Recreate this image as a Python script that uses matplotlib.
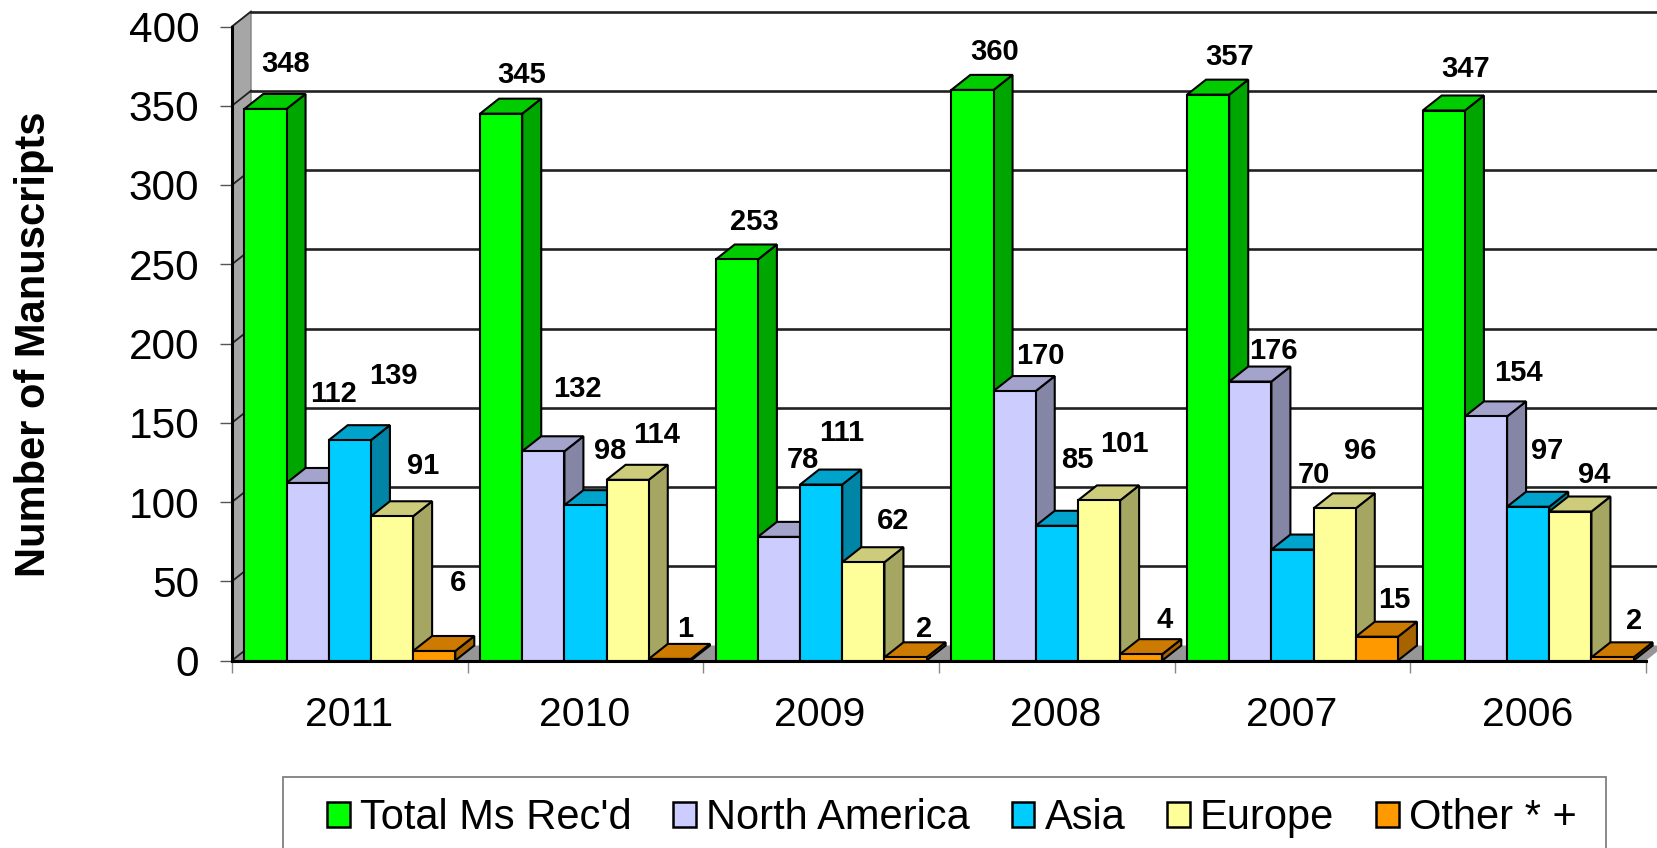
import matplotlib
matplotlib.use("Agg")
import matplotlib.pyplot as plt
from matplotlib.patches import Patch, Polygon, Rectangle
import numpy as np

plt.rcParams["font.family"] = ["Liberation Sans", "DejaVu Sans"]

# ── Data ─────────────────────────────────────────────────────────────────────
years = ["2011", "2010", "2009", "2008", "2007", "2006"]
series_names = ["Total Ms Rec'd", "North America", "Asia", "Europe", "Other * +"]
total = [348, 345, 253, 360, 357, 347]
north_america = [112, 132, 78, 170, 176, 154]
asia = [139, 98, 111, 85, 70, 97]
europe = [91, 114, 62, 101, 96, 94]
other = [6, 1, 2, 4, 15, 2]

colors = ["#00FF00", "#CCCCFF", "#00CCFF", "#FFFF99", "#FF9900"]

# label centres in image pixels, placed by hand like the original
label_px = [
    [(286, 64), (333, 394), (393, 376), (423, 466), (458, 583)],
    [(522, 75), (577, 389), (610, 451), (657, 435), (685, 629)],
    [(754, 222), (803, 460), (842, 433), (893, 521), (924, 629)],
    [(995, 52), (1040, 356), (1077, 460), (1124, 444), (1165, 620)],
    [(1230, 57), (1273, 351), (1314, 475), (1360, 451), (1394, 600)],
    [(1466, 69), (1518, 373), (1547, 451), (1594, 475), (1634, 621)],
]

# ── Canvas ───────────────────────────────────────────────────────────────────
W, H = 1657, 848
LEFT, RIGHT = 232, 1646
TOP, BOTTOM = 26.5, 660.5
DEPTH_PX_X, DEPTH_PX_Y = 19, 15

fig = plt.figure(figsize=(W / 100, H / 100), dpi=100, facecolor="white")
ax = fig.add_axes([LEFT / W, 1 - BOTTOM / H, (RIGHT - LEFT) / W, (BOTTOM - TOP) / H])
ax.set_xlim(0, len(years))
ax.set_ylim(0, 400)
ax.patch.set_visible(False)

dx = DEPTH_PX_X / ((RIGHT - LEFT) / len(years))
dy = DEPTH_PX_Y / ((BOTTOM - TOP) / 400)
BAR_W = 0.179
MARGIN = (1 - 5 * BAR_W) / 2


def shade(color, k):
    rgb = np.array(matplotlib.colors.to_rgb(color))
    return tuple(rgb * k)


# ── Walls and floor ──────────────────────────────────────────────────────────
n = len(years)
ax.add_patch(Polygon([(0, 0), (n, 0), (n + dx, dy), (dx, dy)], closed=True,
                     facecolor="#969696", edgecolor="none", zorder=1, clip_on=False))
ax.add_patch(Polygon([(0, 0), (dx, dy), (dx, 400 + dy), (0, 400)], closed=True,
                     facecolor="#A6A6A6", edgecolor="#808080", linewidth=1, zorder=1,
                     clip_on=False))

for v in range(0, 401, 50):
    ax.plot([0, dx], [v, v + dy], color="#222222", lw=1.3, zorder=1.5, clip_on=False)
    if v > 0:
        ax.plot([dx, n + dx], [v + dy, v + dy], color="#222222", lw=1.9, zorder=1.5,
                clip_on=False)

# ── Bars ─────────────────────────────────────────────────────────────────────
all_series = [total, north_america, asia, europe, other]
z = 2
for g in range(n):
    for s, values in enumerate(all_series):
        x0 = g + MARGIN + s * BAR_W
        x1 = x0 + BAR_W
        v = values[g]
        c = colors[s]
        ax.add_patch(Polygon([(x1, 0), (x1 + dx, dy), (x1 + dx, v + dy), (x1, v)], closed=True,
                             facecolor=shade(c, 0.65), edgecolor="black", linewidth=1.5,
                             zorder=z, clip_on=False))
        ax.add_patch(Polygon([(x0, v), (x1, v), (x1 + dx, v + dy), (x0 + dx, v + dy)], closed=True,
                             facecolor=shade(c, 0.8), edgecolor="black", linewidth=1.5,
                             zorder=z, clip_on=False))
        ax.bar(x0, v, BAR_W, align="edge", color=c, edgecolor="black", linewidth=1.5,
               zorder=z + 0.5, clip_on=False)
        z += 1

# ── Axes ─────────────────────────────────────────────────────────────────────
for side in ["top", "right"]:
    ax.spines[side].set_visible(False)
for side in ["left", "bottom"]:
    ax.spines[side].set_linewidth(2.2)
    ax.spines[side].set_zorder(200)

ax.set_yticks(range(0, 401, 50))
ax.tick_params(axis="y", length=8.6, width=1, color="#555555", labelsize=30.5, pad=15)
ax.set_xticks(range(n + 1))
ax.set_xticklabels([])
ax.tick_params(axis="x", length=8.6, width=1, color="#888888")
for i, year in enumerate(years):
    ax.annotate(year, xy=(i + 0.5, 0), xycoords=("data", "data"),
                xytext=(-1, -55), textcoords="offset pixels",
                ha="center", va="center", fontsize=29.5, color="black")

fig.text(34 / W, 1 - 344 / H, "Number of Manuscripts", rotation=90, ha="center", va="center",
         fontsize=30, fontweight="bold", color="black")

# ── Value labels ─────────────────────────────────────────────────────────────
for g in range(n):
    for s, values in enumerate(all_series):
        px, py = label_px[g][s]
        fig.text(px / W, 1 - py / H, str(values[g]), ha="center", va="center",
                 fontsize=21, fontweight="bold", color="black", zorder=300)

# ── Legend ───────────────────────────────────────────────────────────────────
fig.add_artist(Rectangle((283 / W, -0.02), (1606 - 283) / W, 1 - 777 / H + 0.02,
                         transform=fig.transFigure, facecolor="white",
                         edgecolor="#808080", linewidth=1.3))
handles = [Patch(facecolor=c, edgecolor="black", linewidth=1.8) for c in colors]
fig.legend(handles, series_names, ncol=5, frameon=False, fontsize=30,
           loc="center left", bbox_to_anchor=(327 / W, 1 - 818 / H),
           borderpad=0, borderaxespad=0, handlelength=0.55, handleheight=0.55,
           handletextpad=0.24, columnspacing=1.0, labelcolor="black")

fig.savefig("out.png", dpi=100, facecolor="white")
